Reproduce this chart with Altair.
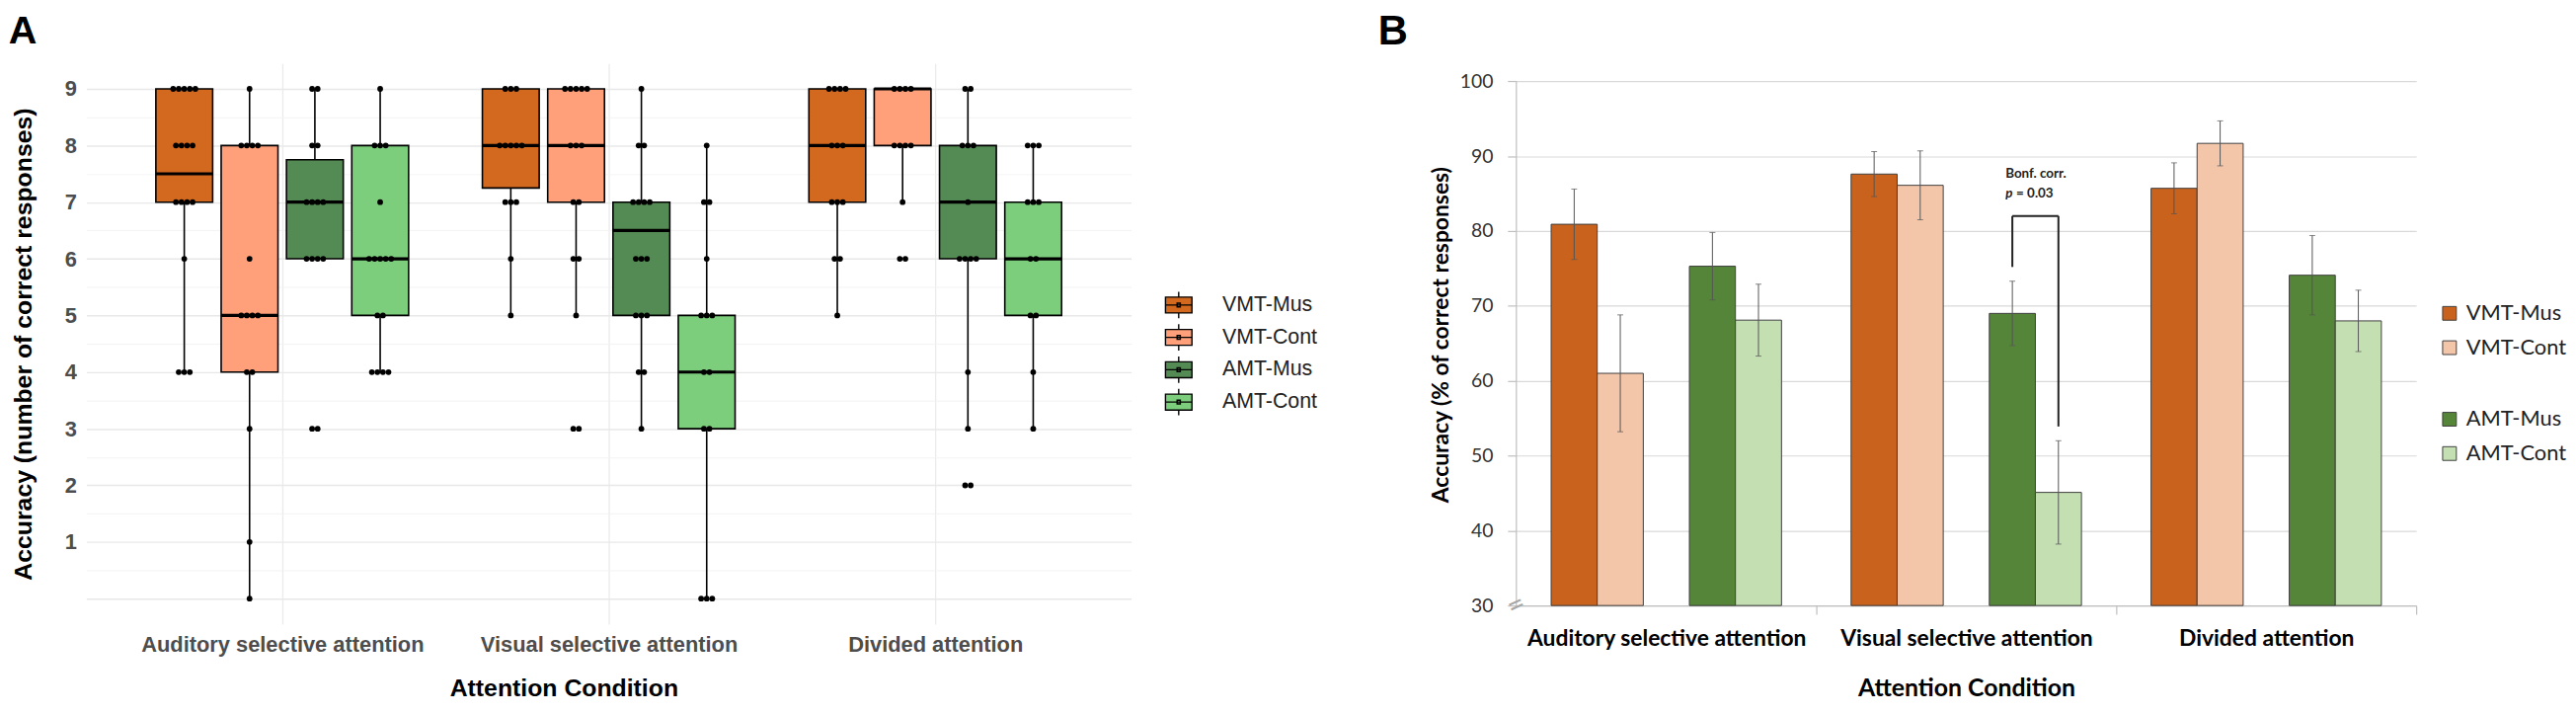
import altair as alt
import pandas as pd
import numpy as np

# ---------------- shared categories ----------------
conditions = ["Auditory selective attention", "Visual selective attention", "Divided attention"]
groups = ["VMT-Mus", "VMT-Cont", "AMT-Mus", "AMT-Cont"]

# ---------------- Panel A: box plots (number of correct responses) ----------------
colors_a = ["#D2691E", "#FFA07A", "#548B54", "#7CCD7C"]
# order: condition-major, group-minor (VMT-Mus, VMT-Cont, AMT-Mus, AMT-Cont)
a_q1 = [7, 4, 6, 5, 7.25, 7, 5, 3, 7, 8, 6, 5]
a_med = [7.5, 5, 7, 6, 8, 8, 6.5, 4, 8, 9, 7, 6]
a_q3 = [9, 8, 7.75, 8, 9, 9, 7, 5, 9, 9, 8, 7]
a_lo = [4, 0, 6, 4, 5, 5, 3, 0, 5, 7, 3, 3]
a_hi = [9, 9, 9, 9, 9, 9, 9, 8, 9, 9, 9, 8]

# individual scores
pts_aud_vmt_mus = [9, 9, 9, 9, 9, 8, 8, 8, 8, 7, 7, 7, 7, 6, 4, 4, 4]
pts_aud_vmt_cont = [9, 8, 8, 8, 8, 6, 5, 5, 5, 5, 4, 4, 3, 1, 0]
pts_aud_amt_mus = [9, 9, 8, 8, 7, 7, 7, 7, 6, 6, 6, 6, 3, 3]
pts_aud_amt_cont = [9, 8, 8, 8, 7, 6, 6, 6, 6, 6, 5, 5, 4, 4, 4, 4]
pts_vis_vmt_mus = [9, 9, 9, 8, 8, 8, 8, 8, 7, 7, 7, 6, 5]
pts_vis_vmt_cont = [9, 9, 9, 9, 9, 8, 8, 8, 7, 7, 6, 6, 5, 3, 3]
pts_vis_amt_mus = [9, 8, 8, 7, 7, 7, 7, 6, 6, 6, 5, 5, 5, 4, 4, 3]
pts_vis_amt_cont = [8, 7, 7, 6, 5, 5, 5, 4, 4, 3, 3, 0, 0, 0]
pts_div_vmt_mus = [9, 9, 9, 9, 8, 8, 8, 7, 7, 7, 6, 6, 5]
pts_div_vmt_cont = [9, 9, 9, 9, 8, 8, 8, 8, 7, 6, 6]
pts_div_amt_mus = [9, 9, 8, 8, 8, 7, 6, 6, 6, 6, 4, 3, 2, 2]
pts_div_amt_cont = [8, 8, 8, 7, 7, 7, 6, 6, 5, 5, 4, 3]

points_a = [
    [pts_aud_vmt_mus, pts_aud_vmt_cont, pts_aud_amt_mus, pts_aud_amt_cont],
    [pts_vis_vmt_mus, pts_vis_vmt_cont, pts_vis_amt_mus, pts_vis_amt_cont],
    [pts_div_vmt_mus, pts_div_vmt_cont, pts_div_amt_mus, pts_div_amt_cont],
]

# ---------------- Panel B: bar chart (% correct) ----------------
colors_b = ["#C9621C", "#F4C6A9", "#558538", "#C4DFB2"]
b_vmt_mus = [80.9, 87.6, 85.7]
b_vmt_mus_err = [4.7, 3.0, 3.4]
b_vmt_cont = [61.0, 86.1, 91.7]
b_vmt_cont_err = [7.8, 4.6, 3.0]
b_amt_mus = [75.3, 69.0, 74.1]
b_amt_mus_err = [4.5, 4.3, 5.3]
b_amt_cont = [68.1, 45.1, 68.0]
b_amt_cont_err = [4.8, 6.9, 4.1]
b_ticks = list(range(30, 101, 10))

# significance bracket (Visual selective attention, AMT-Mus vs AMT-Cont)
bracket_cond = "Visual selective attention"
bracket_top = 82.0
bracket_left_end = 75.2
bracket_right_end = 53.9
bracket_text_1 = "Bonf. corr."
bracket_text_2 = "= 0.03"
bracket_text_y = [87.6, 85.0]

# ================= build panel A =================
FA = "Liberation Sans"
slot_a = 0.2
half_box = 0.087
rows = []
for ci, c in enumerate(conditions):
    for gi, g in enumerate(groups):
        k = ci * 4 + gi
        pos = ci + (gi - 1.5) * slot_a
        rows.append(dict(cond=c, group=g, pos=pos, left=pos - half_box, right=pos + half_box,
                         q1=a_q1[k], med=a_med[k], q3=a_q3[k], lo=a_lo[k], hi=a_hi[k]))
box_df = pd.DataFrame(rows)

prow = []
for ci, c in enumerate(conditions):
    for gi, g in enumerate(groups):
        vals = points_a[ci][gi]
        pos = ci + (gi - 1.5) * slot_a
        for v in sorted(set(vals), reverse=True):
            n = vals.count(v)
            offs = (np.arange(n) - (n - 1) / 2.0) * 0.017
            for o in offs:
                prow.append(dict(cond=c, group=g, value=v, xp=pos + o))
pts_df = pd.DataFrame(prow)

label_expr_a = "[" + ",".join("'%s'" % c for c in conditions) + "][datum.value]"
xscale_a = alt.Scale(domain=[-0.6, 2.6], nice=False, zero=False)
yscale_a = alt.Scale(domain=[-0.45, 9.45], nice=False, zero=False)

minor_test = "datum.value != floor(datum.value)"
x_axis_a = alt.Axis(values=[0, 1, 2], labelExpr=label_expr_a, title="Attention Condition",
                    grid=True, gridColor="#ebebeb", gridWidth=1.3, domain=False, ticks=False,
                    labelFont=FA, labelFontSize=22, labelFontWeight="bold", labelColor="#4d4d4d",
                    labelPadding=11, labelAngle=0, labelLimit=0,
                    titleFont=FA, titleFontSize=25, titleFontWeight="bold", titleColor="#000000",
                    titlePadding=21, titleX=487)
y_axis_a = alt.Axis(values=[i / 2 for i in range(19)],
                    labelExpr="datum.value >= 1 && datum.value == floor(datum.value) ? format(datum.value, 'd') : ''",
                    gridColor={"condition": {"test": minor_test, "value": "#f1f1f1"}, "value": "#e8e8e8"},
                    gridWidth={"condition": {"test": minor_test, "value": 0.9}, "value": 1.4},
                    domain=False, ticks=False,
                    labelFont=FA, labelFontSize=22, labelFontWeight="bold", labelColor="#4d4d4d",
                    labelPadding=10,
                    title="Accuracy (number of correct responses)",
                    titleFont=FA, titleFontSize=25, titleFontWeight="bold", titleColor="#000000",
                    titlePadding=29)

legend_a = alt.Legend(title=None, orient="none", legendX=1100, legendY=232,
                      symbolType="M-1,-0.6H1V0.6H-1Z M0,-1V-0.6 M0,0.6V1 M-1,0H1 M-0.12,-0.14H0.12V0.14H-0.12Z",
                      symbolSize=729, symbolStrokeColor="#000000", symbolStrokeWidth=1.4,
                      symbolOpacity=1, labelFont=FA, labelFontSize=21.5, labelColor="#222222",
                      labelOffset=30, rowPadding=0)


def xa(field):
    return alt.X(field, scale=xscale_a, axis=x_axis_a)


def ya(field):
    return alt.Y(field, scale=yscale_a, axis=y_axis_a)


whisk = alt.Chart(box_df).mark_rule(color="#000000", strokeWidth=1.6).encode(
    x=xa("pos:Q"), y=ya("lo:Q"), y2="hi:Q",
)
boxes = alt.Chart(box_df).mark_bar(stroke="#000000", strokeWidth=1.6, opacity=1).encode(
    x=xa("left:Q"), x2="right:Q", y=ya("q1:Q"), y2="q3:Q",
    color=alt.Color("group:N", scale=alt.Scale(domain=groups, range=colors_a), legend=legend_a),
)
medians = alt.Chart(box_df).mark_rule(color="#000000", strokeWidth=3.2).encode(
    x=xa("left:Q"), x2="right:Q", y=ya("med:Q"),
)
dots = alt.Chart(pts_df).mark_circle(color="#000000", size=34, opacity=1).encode(
    x=xa("xp:Q"), y=ya("value:Q"),
)

panel_a = alt.layer(whisk, boxes, medians, dots).properties(
    width=1066, height=572,
    title=alt.TitleParams("A", anchor="start", frame="bounds", font=FA, fontSize=40,
                          fontWeight="bold", color="#000000", offset=12, dx=-3),
)

# ================= build panel B =================
FB = "Lato"
slot_b = 0.1536
slots = {"VMT-Mus": -2, "VMT-Cont": -1, "AMT-Mus": 1, "AMT-Cont": 2}
vals_b = {"VMT-Mus": (b_vmt_mus, b_vmt_mus_err), "VMT-Cont": (b_vmt_cont, b_vmt_cont_err),
          "AMT-Mus": (b_amt_mus, b_amt_mus_err), "AMT-Cont": (b_amt_cont, b_amt_cont_err)}
brow = []
for ci, c in enumerate(conditions):
    for g in groups:
        v, e = vals_b[g]
        pos = ci + slots[g] * slot_b
        brow.append(dict(cond=c, group=g, pos=pos, left=pos - slot_b / 2, right=pos + slot_b / 2,
                         value=v[ci], lo=v[ci] - e[ci], hi=v[ci] + e[ci], base=b_ticks[0]))
bar_df = pd.DataFrame(brow)
vmt_df = bar_df[bar_df.group.str.startswith("VMT")]
amt_df = bar_df[bar_df.group.str.startswith("AMT")]

bci = conditions.index(bracket_cond)
bx_l = bci + slots["AMT-Mus"] * slot_b
bx_r = bci + slots["AMT-Cont"] * slot_b
br_v = pd.DataFrame({"x": [bx_l, bx_r], "y": [bracket_left_end, bracket_right_end],
                     "y2": [bracket_top, bracket_top]})
br_h = pd.DataFrame({"x": [bx_l], "x2": [bx_r], "y": [bracket_top]})
br_t = pd.DataFrame({"x": [bx_l], "y": [bracket_text_y[0]], "t": [bracket_text_1]})
br_p = pd.DataFrame({"x": [bx_l], "y": [bracket_text_y[1]], "t": [bracket_text_2]})
xmin_b, xmax_b = -0.5, 2.5
brk = pd.DataFrame({"x": [xmin_b], "y": [b_ticks[0]]})
yline = pd.DataFrame({"x": [xmin_b], "y": [b_ticks[0]], "y2": [b_ticks[-1]]})

# panel B sits lower than panel A: extra headroom above 100 (no gridline there)
b_headroom = 2.38
xscale_b = alt.Scale(domain=[xmin_b, xmax_b], nice=False, zero=False)
yscale_b = alt.Scale(domain=[b_ticks[0], b_ticks[-1] + b_headroom], nice=False, zero=False)
label_expr_b = "datum.value == floor(datum.value) ? " + label_expr_a + " : ''"
int_test = "datum.value == floor(datum.value)"

x_axis_b = alt.Axis(values=[0, 0.5, 1, 1.5, 2, 2.5], labelExpr=label_expr_b, grid=False,
                    domainColor="#bfbfbf", domainWidth=1.2,
                    tickColor="#bfbfbf", tickWidth=1.2, tickSize=9,
                    tickOpacity={"condition": {"test": int_test, "value": 0}, "value": 1},
                    labelFont=FB, labelFontSize=23, labelFontWeight="bold", labelColor="#000000",
                    labelPadding=14, labelAngle=0, labelFlush=False, labelLimit=0,
                    title="Attention Condition", titleFont=FB, titleFontSize=25,
                    titleFontWeight="bold", titleColor="#000000", titlePadding=26)
y_axis_b = alt.Axis(values=b_ticks, grid=True, gridColor="#d9d9d9", gridWidth=1.2,
                    domain=False, tickColor="#bfbfbf", tickSize=9, tickWidth=1.2,
                    labelFont=FB, labelFontSize=19.5, labelColor="#333333", labelPadding=15,
                    title="Accuracy (% of correct responses)", titleFont=FB, titleFontSize=23,
                    titleFontWeight="bold", titleColor="#000000", titlePadding=7)


def xb(field):
    return alt.X(field, scale=xscale_b, axis=x_axis_b)


def yb(field):
    return alt.Y(field, scale=yscale_b, axis=y_axis_b)


legend_b1 = alt.Legend(title=None, orient="none", legendX=941, legendY=244, symbolType="square",
                       symbolSize=196, symbolStrokeColor="#404040", symbolStrokeWidth=1,
                       symbolOpacity=1, labelFont=FB, labelFontSize=22, labelColor="#222222",
                       labelOffset=6, rowPadding=13)
legend_b2 = alt.Legend(title=None, orient="none", legendX=941, legendY=352, symbolType="square",
                       symbolSize=196, symbolStrokeColor="#404040", symbolStrokeWidth=1,
                       symbolOpacity=1, labelFont=FB, labelFontSize=22, labelColor="#222222",
                       labelOffset=6, rowPadding=13)

yaxis_line = alt.Chart(yline).mark_rule(color="#bfbfbf", strokeWidth=1.2).encode(
    x=xb("x:Q"), y=yb("y:Q"), y2="y2:Q",
)
bars_vmt = alt.Chart(vmt_df).mark_bar(stroke="#404040", strokeWidth=1, opacity=1).encode(
    x=xb("left:Q"), x2="right:Q", y=yb("base:Q"), y2="value:Q",
    color=alt.Color("group:N", scale=alt.Scale(domain=groups[:2], range=colors_b[:2]), legend=legend_b1),
)
bars_amt = alt.Chart(amt_df).mark_bar(stroke="#404040", strokeWidth=1, opacity=1).encode(
    x=xb("left:Q"), x2="right:Q", y=yb("base:Q"), y2="value:Q",
    fill=alt.Fill("group:N", scale=alt.Scale(domain=groups[2:], range=colors_b[2:]), legend=legend_b2),
)
err = alt.Chart(bar_df).mark_rule(color="#555555", strokeWidth=1).encode(
    x=xb("pos:Q"), y=yb("lo:Q"), y2="hi:Q",
)
cap_lo = alt.Chart(bar_df).mark_tick(color="#555555", thickness=1, size=6, orient="horizontal").encode(
    x=xb("pos:Q"), y=yb("lo:Q"),
)
cap_hi = alt.Chart(bar_df).mark_tick(color="#555555", thickness=1, size=6, orient="horizontal").encode(
    x=xb("pos:Q"), y=yb("hi:Q"),
)
br_vert = alt.Chart(br_v).mark_rule(color="#222222", strokeWidth=2).encode(
    x=xb("x:Q"), y=yb("y:Q"), y2="y2:Q",
)
br_hor = alt.Chart(br_h).mark_rule(color="#222222", strokeWidth=2).encode(
    x=xb("x:Q"), x2="x2:Q", y=yb("y:Q"),
)
br_text = alt.Chart(br_t).mark_text(font=FB, fontSize=13.5, fontWeight="bold", color="#222222",
                                    align="left", baseline="middle", dx=-7).encode(
    x=xb("x:Q"), y=yb("y:Q"), text="t:N",
)
br_ptxt = alt.Chart(br_p).mark_text(font=FB, fontSize=13.5, fontWeight="bold", color="#222222",
                                     align="left", baseline="middle", dx=4).encode(
    x=xb("x:Q"), y=yb("y:Q"), text="t:N",
)
br_pit = alt.Chart(br_p).mark_text(font=FB, fontSize=13.5, fontWeight="bold", fontStyle="italic",
                                    color="#222222", align="left", baseline="middle", dx=-7).encode(
    x=xb("x:Q"), y=yb("y:Q"), text=alt.value("p"),
)
brk_mark = alt.Chart(brk).mark_text(text="=", font=FB, fontSize=30, color="#a6a6a6", angle=335,
                                    align="center", baseline="middle").encode(
    x=xb("x:Q"), y=yb("y:Q"),
)

panel_b = alt.layer(yaxis_line, bars_vmt, bars_amt, err, cap_lo, cap_hi, br_vert, br_hor,
                    br_text, br_ptxt, br_pit, brk_mark).properties(
    width=918, height=553,
    title=alt.TitleParams("B", anchor="start", frame="group", font=FA, fontSize=42,
                          fontWeight="bold", color="#000000", offset=10, dx=-141),
).resolve_scale(color="independent", fill="independent")

chart = alt.hconcat(panel_a, panel_b, spacing=60).resolve_scale(
    x="independent", y="independent", color="independent", fill="independent"
).properties(
    padding={"left": 0, "top": 0, "right": 0, "bottom": 0}, background="#ffffff"
).configure_view(stroke="transparent")

chart.save("out.html", embed_options={"renderer": "svg", "actions": False})
